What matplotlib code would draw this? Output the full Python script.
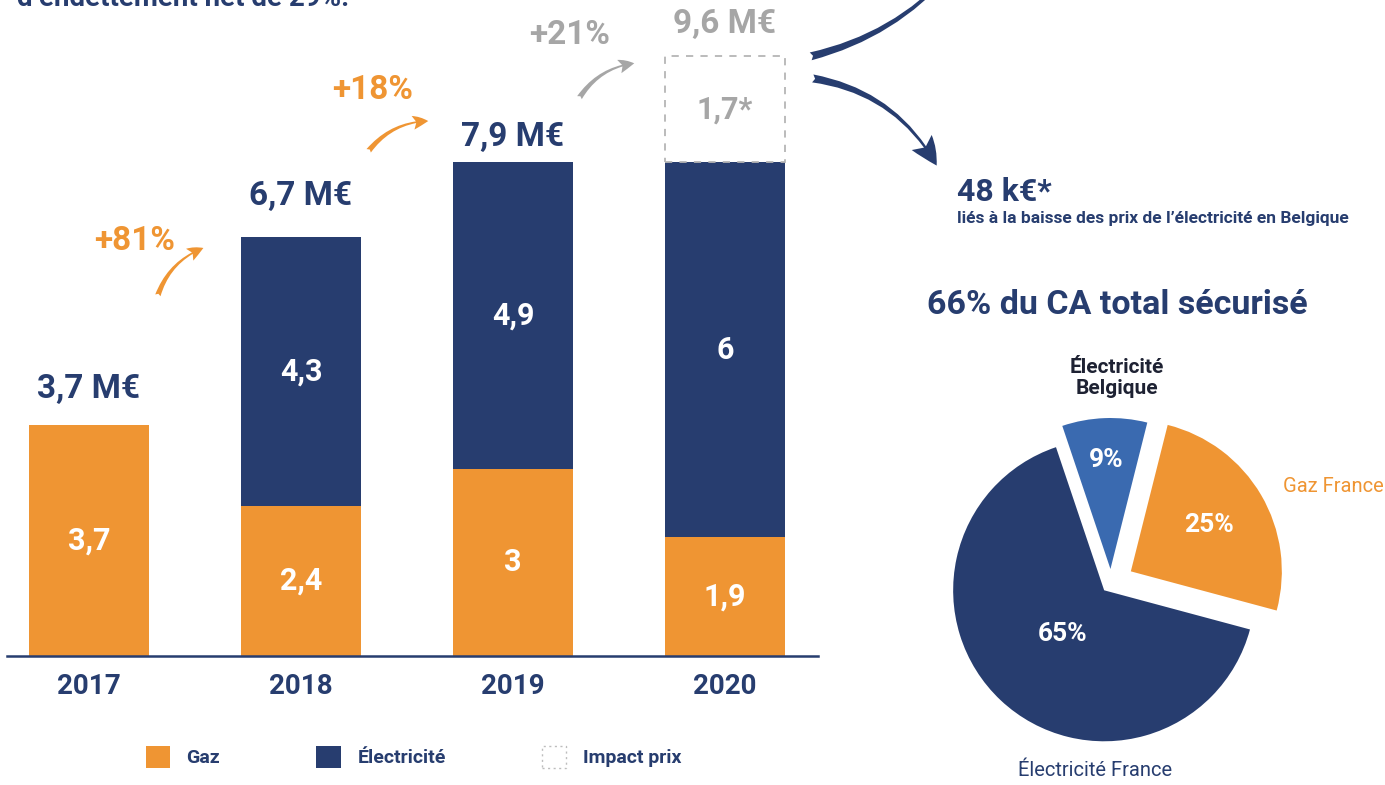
import matplotlib
matplotlib.use("Agg")
import matplotlib.pyplot as plt
from matplotlib.patches import FancyArrowPatch
import numpy as np

# ─── données ───────────────────────────────────────────
years = ["2017", "2018", "2019", "2020"]
gaz = [3.7, 2.4, 3.0, 1.9]
elec = [0.0, 4.3, 4.9, 6.0]
impact = [0.0, 0.0, 0.0, 1.7]
totals = ["3,7 M€", "6,7 M€", "7,9 M€", "9,6 M€"]
growth = ["+81%", "+18%", "+21%"]

pie_labels = ["Électricité\nBelgique", "Gaz France", "Électricité France"]
pie_values = [9, 25, 65]

# ─── style ─────────────────────────────────────────────
W, H = 1385, 785
NAVY = "#273D6F"
ORANGE = "#EF9533"
BLUE = "#3A6AB0"
GREY = "#A6A6A6"
PT = 72 / 100  # pixels -> points

plt.rcParams["font.family"] = ["Roboto", "DejaVu Sans"]

fig = plt.figure(figsize=(W / 100, H / 100), dpi=100)
fig.patch.set_facecolor("white")

# ─── barres empilées ───────────────────────────────────
base, ppu = 656, 62.5          # ligne de base (px depuis le haut), px par M€
bx = fig.add_axes([7 / W, (H - base) / H, 811 / W, base / H])
bx.set_xlim(-0.387, 3.439)
bx.set_ylim(0, base / ppu)
bx.patch.set_alpha(0)

x = np.arange(len(years))
bw = 0.566
gaz_a, elec_a, imp_a = np.array(gaz), np.array(elec), np.array(impact)
stack = gaz_a + elec_a
m = imp_a > 0

b_gaz = bx.bar(x, gaz_a, bw, color=ORANGE, label="Gaz")
b_el = bx.bar(x, elec_a, bw, bottom=gaz_a, color=NAVY, label="Électricité")
b_imp = bx.bar(x[m], imp_a[m], bw, bottom=stack[m], fill=False,
               edgecolor="#B5B5B5", linestyle=(0, (4, 4)), linewidth=1.3,
               label="Impact prix")

fmt = lambda v: f"{v:g}".replace(".", ",")
lbl = dict(label_type="center", color="white", fontsize=22, fontweight="bold")
bx.bar_label(b_gaz, labels=[fmt(v) for v in gaz_a], **lbl)
bx.bar_label(b_el, labels=[fmt(v) if v else "" for v in elec_a], **lbl)
bx.bar_label(b_imp, labels=[fmt(v) + "*" for v in imp_a[m]],
             label_type="center", color=GREY, fontsize=22, fontweight="bold")

# totaux au-dessus des barres
tot_off = [27, 32, 16, 23]
tot_col = [NAVY, NAVY, NAVY, GREY]
for i, t in enumerate(totals):
    bx.annotate(t, (x[i], stack[i] + imp_a[i]), xytext=(0, tot_off[i] * PT),
                textcoords="offset points", ha="center", va="baseline",
                fontsize=24, fontweight="bold", color=tot_col[i])

bx.set_xticks(x, years)
bx.set_yticks([])
bx.tick_params(axis="x", length=0, pad=12, labelsize=20, labelcolor=NAVY)
for t in bx.get_xticklabels():
    t.set_fontweight("bold")
for s in ["top", "right", "left"]:
    bx.spines[s].set_visible(False)
bx.spines["bottom"].set_color(NAVY)
bx.spines["bottom"].set_linewidth(1.8)

# ─── camembert ─────────────────────────────────────────
pa = fig.add_axes([0, 0, 1, 1])
wedges, _ = pa.pie(pie_values, colors=[BLUE, ORANGE, NAVY], startangle=108.6,
                   counterclock=False, radius=151, center=(1111, H - 583),
                   explode=[14, 23, 10])
pa.set_xlim(0, W)
pa.set_ylim(0, H)
pa.axis("off")
for w, v, f in zip(wedges, pie_values, [0.72, 0.6, 0.4]):
    th = np.deg2rad((w.theta1 + w.theta2) / 2)
    cx, cy = w.center
    pa.text(cx + f * w.r * np.cos(th), cy + f * w.r * np.sin(th), f"{v}%",
            ha="center", va="center", color="white", fontsize=19,
            fontweight="bold")

# ─── annotations (coordonnées pixel, origine en haut) ──
ov = fig.add_axes([0, 0, 1, 1])
ov.set_xlim(0, W)
ov.set_ylim(H, 0)
ov.axis("off")
ov.patch.set_alpha(0)

ov.text(17, 6, "d’endettement net de 29%.", ha="left", va="baseline",
        fontsize=20, fontweight="bold", color=NAVY)

growth_xy = [(135, 241), (373, 90), (570, 35)]
growth_col = [ORANGE, ORANGE, GREY]
growth_arr = [((157, 298), (206, 247)), ((367, 153), (431, 121)),
              ((578, 100), (637, 63))]
for g, (gx, gy), c, (a, b) in zip(growth, growth_xy, growth_col, growth_arr):
    ov.text(gx, gy, g, ha="center", va="center", fontsize=24,
            fontweight="bold", color=c)
    ov.add_patch(FancyArrowPatch(
        a, b, connectionstyle="arc3,rad=-0.25",
        arrowstyle="fancy,head_length=0.55,head_width=0.5,tail_width=0.2",
        mutation_scale=20, color=c, lw=0))

# flèches bleues depuis l'impact prix
ov.add_patch(FancyArrowPatch(
    (808, 57), (965, -45), connectionstyle="arc3,rad=0.18",
    arrowstyle="fancy,head_length=0.5,head_width=0.45,tail_width=0.16",
    mutation_scale=36, color=NAVY, lw=0))
ov.add_patch(FancyArrowPatch(
    (810, 78), (938, 168), connectionstyle="arc3,rad=-0.25",
    arrowstyle="fancy,head_length=0.55,head_width=0.5,tail_width=0.16",
    mutation_scale=36, color=NAVY, lw=0))

ov.text(957, 201, "48 k€*", ha="left", va="baseline", fontsize=23,
        fontweight="bold", color=NAVY)
ov.text(957, 218, "liés à la baisse des prix de l’électricité en Belgique",
        ha="left", va="center", fontsize=12.5, fontweight="bold", color=NAVY)

ov.text(1117, 305, "66% du CA total sécurisé", ha="center", va="center",
        fontsize=24.5, fontweight="bold", color=NAVY)

ov.text(1117, 378, pie_labels[0], ha="center", va="center", fontsize=15,
        fontweight="bold", color="#1E2233", linespacing=1.15)
ov.text(1283, 487, pie_labels[1], ha="left", va="center", fontsize=14.5,
        color=ORANGE)
ov.text(1095, 771, pie_labels[2], ha="center", va="center", fontsize=14.5,
        color=NAVY)

# ─── légende ───────────────────────────────────────────
leg = fig.legend(handles=[b_gaz, b_el, b_imp], loc="center left",
                 bbox_to_anchor=(136 / W, (H - 757) / H), ncol=3,
                 frameon=False, borderpad=0, handlelength=1.25,
                 handleheight=1.35, handletextpad=0.85, columnspacing=4.95,
                 labelcolor=NAVY, prop={"weight": "bold", "size": 14})
# poignée « Impact prix » en pointillés clairs
imp_handle = leg.legend_handles[2]
imp_handle.set_linestyle((0, (1.5, 2.5)))
imp_handle.set_edgecolor("#BDBDBD")
imp_handle.set_linewidth(1.0)

fig.savefig("out.png", dpi=100, facecolor="white")
